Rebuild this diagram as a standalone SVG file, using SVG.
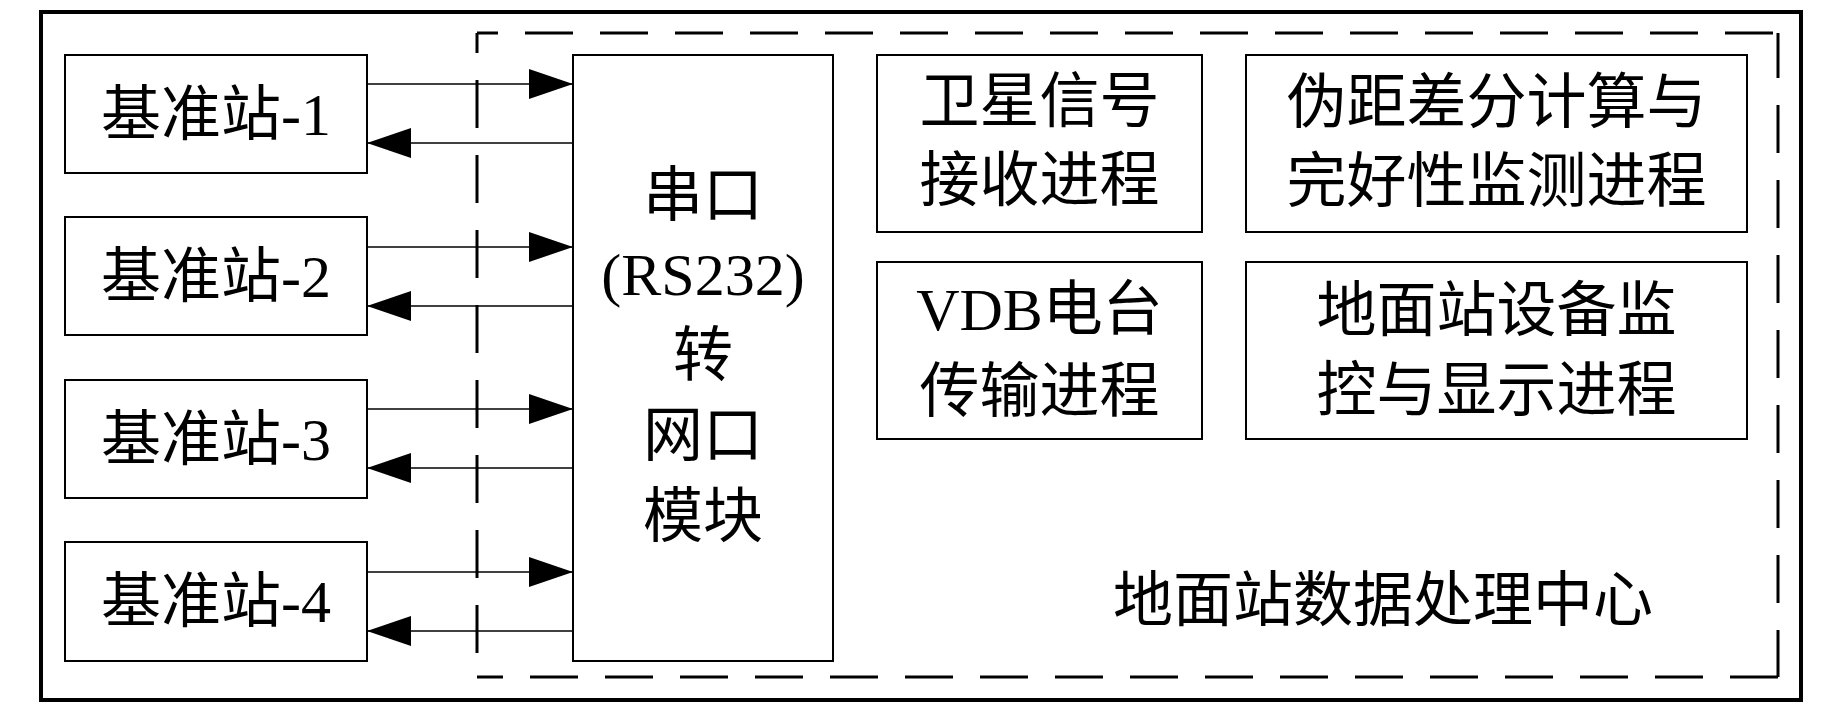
<svg xmlns="http://www.w3.org/2000/svg" width="1843" height="709" viewBox="0 0 1843 709">
<style>
.box{fill:#fff;stroke:#000;stroke-width:2}
.t{font-family:"Liberation Serif","Noto Sans CJK SC",serif;font-size:60px;fill:#000;text-anchor:middle}
.cn{fill:none;stroke:#000;stroke-width:1.6;marker-end:url(#ah)}
.dash{fill:none;stroke:#000;stroke-width:3;stroke-dasharray:48 27}
</style>
<defs>
<marker id="ah" markerUnits="userSpaceOnUse" markerWidth="44" markerHeight="30" viewBox="0 0 44 30" refX="44" refY="15" orient="auto">
<path d="M0,0 L44,15 L0,30 Z" fill="#000"/>
</marker>
</defs>
<rect width="1843" height="709" fill="#fff"/>
<rect id="outer" x="41" y="12" width="1760" height="688" fill="none" stroke="#000" stroke-width="4"/>
<g id="center-boundary">
<path class="dash" d="M477,33 H1778" stroke-dashoffset="27"/>
<path class="dash" d="M1778,33 V677" stroke-dashoffset="3"/>
<path class="dash" d="M1778,677 H477" stroke-dashoffset="0"/>
<path class="dash" d="M477,33 V677" stroke-dashoffset="28"/>
<text class="t" x="1383" y="621">地面站数据处理中心</text>
</g>
<g id="station1"><rect class="box" x="65" y="55" width="302" height="118"/><text class="t" x="216" y="135">基准站-1</text></g>
<g id="station2"><rect class="box" x="65" y="217" width="302" height="118"/><text class="t" x="216" y="297">基准站-2</text></g>
<g id="station3"><rect class="box" x="65" y="380" width="302" height="118"/><text class="t" x="216" y="460">基准站-3</text></g>
<g id="station4"><rect class="box" x="65" y="542" width="302" height="119"/><text class="t" x="216" y="622">基准站-4</text></g>
<g id="converter"><rect class="box" x="573" y="55" width="260" height="606"/>
<text class="t" x="703" y="216">串口</text>
<text class="t" x="703" y="295">(RS232)</text>
<text class="t" x="703" y="376">转</text>
<text class="t" x="703" y="456">网口</text>
<text class="t" x="703" y="537">模块</text>
</g>
<g id="proc-sat"><rect class="box" x="877" y="55" width="325" height="177"/>
<text class="t" x="1039.5" y="122">卫星信号</text><text class="t" x="1039.5" y="201">接收进程</text></g>
<g id="proc-vdb"><rect class="box" x="877" y="262" width="325" height="177"/>
<text class="t" x="1039.5" y="330">VDB电台</text><text class="t" x="1039.5" y="412">传输进程</text></g>
<g id="proc-diff"><rect class="box" x="1246" y="55" width="501" height="177"/>
<text class="t" x="1496.5" y="123">伪距差分计算与</text><text class="t" x="1496.5" y="202">完好性监测进程</text></g>
<g id="proc-mon"><rect class="box" x="1246" y="262" width="501" height="177"/>
<text class="t" x="1496.5" y="331">地面站设备监</text><text class="t" x="1496.5" y="411">控与显示进程</text></g>
<g id="connectors">
<path class="cn" d="M367,84 H573"/>
<path class="cn" d="M573,143 H367"/>
<path class="cn" d="M367,247 H573"/>
<path class="cn" d="M573,306 H367"/>
<path class="cn" d="M367,409 H573"/>
<path class="cn" d="M573,468 H367"/>
<path class="cn" d="M367,572 H573"/>
<path class="cn" d="M573,631 H367"/>
</g>
</svg>
